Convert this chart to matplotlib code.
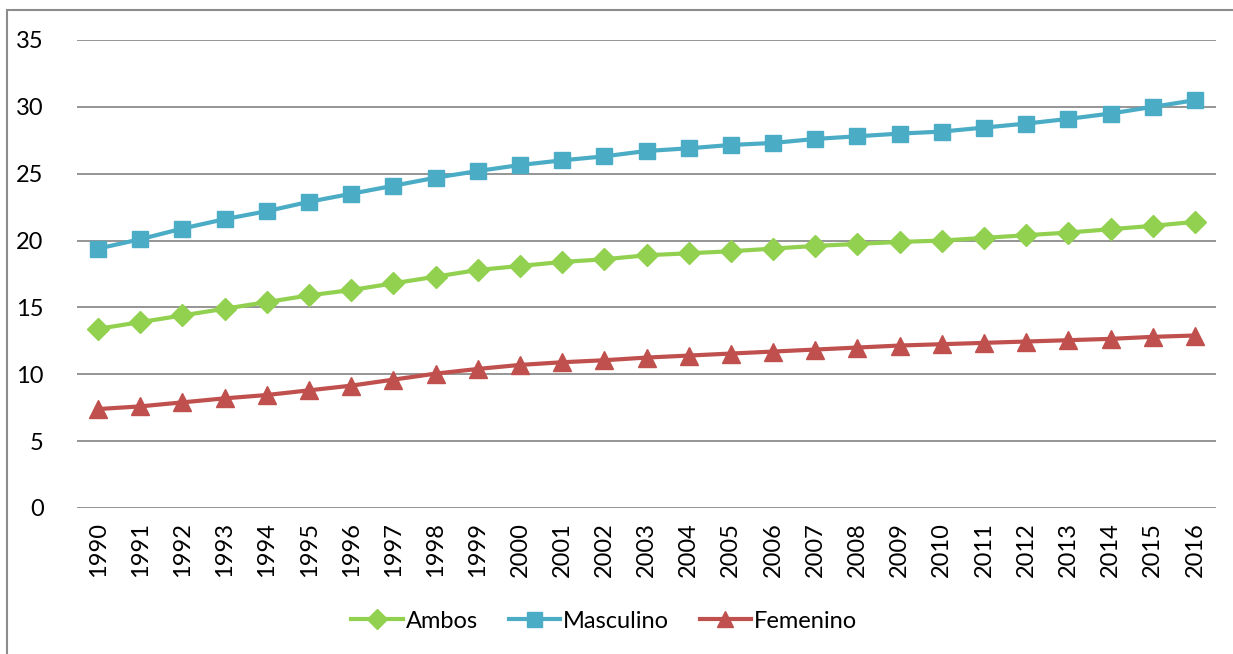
import numpy as np
import matplotlib.pyplot as plt
from matplotlib.patches import Rectangle

plt.rcParams['font.family'] = ['Lato', 'DejaVu Sans']

# Series by year
years = [str(y) for y in range(1990, 2017)]
ambos = [13.4, 13.9, 14.4, 14.9, 15.4, 15.9, 16.3, 16.8, 17.3, 17.8, 18.1, 18.4,
         18.6, 18.9, 19.05, 19.2, 19.4, 19.6, 19.75, 19.9, 20.0, 20.2, 20.4,
         20.6, 20.85, 21.1, 21.4]
masculino = [19.4, 20.1, 20.9, 21.6, 22.2, 22.9, 23.5, 24.1, 24.7, 25.2, 25.65,
             26.0, 26.3, 26.7, 26.9, 27.15, 27.3, 27.6, 27.8, 28.0, 28.15, 28.45,
             28.75, 29.1, 29.5, 30.0, 30.5]
femenino = [7.4, 7.6, 7.9, 8.2, 8.45, 8.8, 9.15, 9.6, 10.05, 10.4, 10.7, 10.9,
            11.05, 11.25, 11.4, 11.55, 11.7, 11.85, 12.0, 12.15, 12.25, 12.35,
            12.45, 12.55, 12.65, 12.8, 12.9]

fig = plt.figure(figsize=(12.33, 6.54), dpi=100)
ax = fig.add_axes([77 / 1233, 1 - 508 / 654, 1139 / 1233, 468 / 654])

x = np.arange(len(years))
ax.plot(x, ambos, color='#92D050', lw=3, marker='D', ms=11, label='Ambos')
ax.plot(x, masculino, color='#4BACC6', lw=3, marker='s', ms=12, label='Masculino')
ax.plot(x, femenino, color='#C0504D', lw=3, marker='^', ms=13, label='Femenino')

ax.set_xlim(-0.5, len(years) - 0.5)
ax.set_ylim(0, 35)
ax.set_yticks(range(0, 36, 5))
ax.set_xticks(x)
ax.set_xticklabels(years, rotation=90)
ax.grid(axis='y', color='#8C8C8C', lw=1.3)
ax.set_axisbelow(True)
for s in ax.spines.values():
    s.set_visible(False)
ax.tick_params(axis='both', length=0, labelsize=17)
ax.tick_params(axis='y', pad=24)
ax.tick_params(axis='x', pad=10)

ax.legend(loc='center', bbox_to_anchor=(0.49, (654 - 621) / 654), bbox_transform=fig.transFigure,
          ncol=3, frameon=False, fontsize=17, handlelength=2.2, handletextpad=0.1,
          columnspacing=1.3, markerscale=0.9)

# outer chart border
fig.patches.append(Rectangle((7 / 1233, -0.1), 1.2, 1.1 - 10 / 654, transform=fig.transFigure,
                             fill=False, edgecolor='#8C8C8C', lw=1.5))

fig.savefig('out.png', dpi=100)
